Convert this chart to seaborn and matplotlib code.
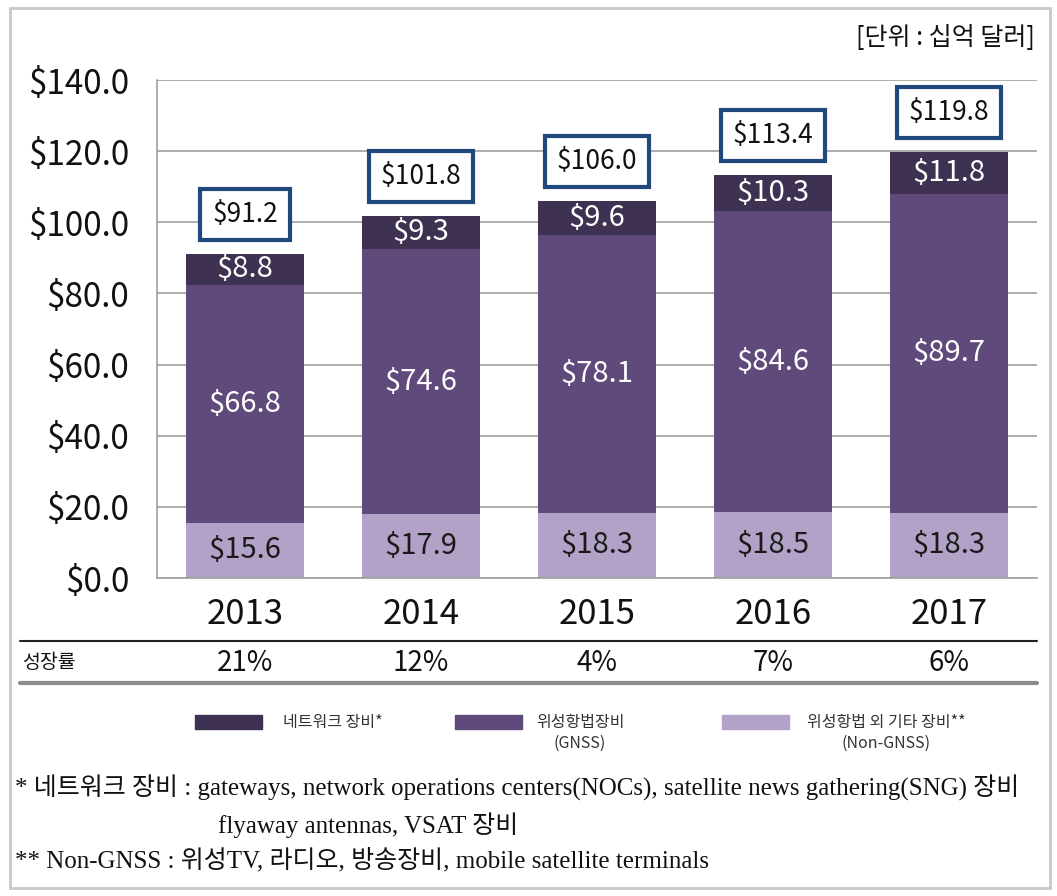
import matplotlib
matplotlib.use("Agg")
import matplotlib.pyplot as plt
import matplotlib.ticker as mticker
from matplotlib.patches import Rectangle
from matplotlib.lines import Line2D
import pandas as pd
import seaborn as sns

# data
years = ['2013', '2014', '2015', '2016', '2017']
network = [8.8, 9.3, 9.6, 10.3, 11.8]
gnss = [66.8, 74.6, 78.1, 84.6, 89.7]
non_gnss = [15.6, 17.9, 18.3, 18.5, 18.3]
totals = [91.2, 101.8, 106.0, 113.4, 119.8]
growth = ['21%', '12%', '4%', '7%', '6%']

series_names = ['네트워크 장비*', '위성항법장비\n(GNSS)', '위성항법 외 기타 장비**\n(Non-GNSS)']
colors = ['#3f3151', '#604a7b', '#b3a2c7']

sns.set_style('white')
plt.rcParams['font.family'] = ['Noto Sans CJK KR', 'DejaVu Sans']

df = pd.DataFrame({'year': years, 'network': network, 'gnss': gnss, 'non_gnss': non_gnss})
df['top'] = df['non_gnss'] + df['gnss'] + df['network']
df['mid'] = df['non_gnss'] + df['gnss']

fig = plt.figure(figsize=(10.57, 8.96), dpi=100)
ax = fig.add_axes([0.1485, 0.3549, 0.8325, 0.5558])

# stacked bars drawn as cumulative layers
for col, c in zip(['top', 'mid', 'non_gnss'], colors):
    sns.barplot(data=df, x='year', y=col, color=c, width=0.67, ax=ax, saturation=1,
                linewidth=0, edgecolor='none')

ax.set_ylim(0, 140)
ax.set_xlim(-0.5, 4.5)
ax.yaxis.set_major_locator(mticker.MultipleLocator(20))
ax.yaxis.set_major_formatter(mticker.FuncFormatter(lambda v, p: f'${v:.1f}'))
ax.grid(axis='y', color='#a0a0a0', linewidth=1.2, zorder=0)
ax.set_axisbelow(True)
for s in ['top', 'right']:
    ax.spines[s].set_visible(False)
for s in ['left', 'bottom']:
    ax.spines[s].set_color('#a0a0a0')
    ax.spines[s].set_linewidth(1.2)
ax.set_xlabel('')
ax.set_ylabel('')
ax.tick_params(axis='y', length=8, width=1.2, color='#a0a0a0', pad=12, labelsize=24, labelcolor='#111111')
ax.tick_params(axis='x', which='major', length=0, pad=14, labelsize=25, labelcolor='#111111')
ax.set_xticks([-0.5, 0.5, 1.5, 2.5, 3.5, 4.5], minor=True)
ax.tick_params(axis='x', which='minor', length=6, width=1.2, color='#a0a0a0')

# segment labels
for i in range(len(years)):
    ax.text(i, non_gnss[i] / 2, f'${non_gnss[i]:.1f}', ha='center', va='center',
            color='#1a1a1a', fontsize=21)
    ax.text(i, non_gnss[i] + gnss[i] / 2, f'${gnss[i]:.1f}', ha='center', va='center',
            color='white', fontsize=21)
    ax.text(i, non_gnss[i] + gnss[i] + network[i] / 2, f'${network[i]:.1f}', ha='center',
            va='center', color='white', fontsize=21)
    ax.text(i, totals[i] + 11, f'${totals[i]:.1f}', ha='center', va='center',
            color='#111111', fontsize=19,
            bbox=dict(boxstyle='square,pad=0.45', fc='white', ec='#1f497d', lw=3))

# growth rate row
trans = ax.get_xaxis_transform()
for i, g in enumerate(growth):
    ax.text(i, -0.171, g, transform=trans, ha='center', va='center', fontsize=20,
            color='#111111')
ax.text(22 / 1057, 1 - 662 / 896, '성장률', transform=fig.transFigure, ha='left', va='center',
        fontsize=14, color='#111111')
fig.add_artist(Line2D([20 / 1057, 1037 / 1057], [1 - 641 / 896] * 2, color='#222222', lw=1.5,
                      transform=fig.transFigure))
fig.add_artist(Line2D([20 / 1057, 1037 / 1057], [1 - 683 / 896] * 2, color='#8c8c8c', lw=3,
                      transform=fig.transFigure))

# legend drawn manually
leg_x = [195, 455, 722]
text_x = [283, 580, 886]
for k in range(3):
    fig.add_artist(Rectangle((leg_x[k] / 1057, 1 - 729 / 896), 67 / 1057, 14 / 896,
                             transform=fig.transFigure, color=colors[k]))
    first, *rest = series_names[k].split('\n')
    ha = 'left' if k == 0 else 'center'
    fig.text(text_x[k] / 1057, 1 - 722 / 896, first, ha=ha, va='center', fontsize=11.5,
             color='#333333')
    if rest:
        fig.text(text_x[k] / 1057, 1 - 743 / 896, rest[0], ha='center', va='center',
                 fontsize=11.5, color='#333333')

# unit and footnotes
fig.text(1035 / 1057, 1 - 38 / 896, '[단위 : 십억 달러]', ha='right', va='center', fontsize=18,
         color='#111111')
serif = ['Liberation Serif', 'Noto Sans CJK KR']
fig.text(15 / 1057, 1 - 788 / 896,
         '* 네트워크 장비 : gateways, network operations centers(NOCs), satellite news gathering(SNG) 장비',
         ha='left', va='center', fontsize=18, family=serif, color='#111111')
fig.text(218 / 1057, 1 - 825 / 896, 'flyaway antennas, VSAT 장비', ha='left', va='center',
         fontsize=18, family=serif, color='#111111')
fig.text(15 / 1057, 1 - 860 / 896, '** Non-GNSS : 위성TV, 라디오, 방송장비, mobile satellite terminals',
         ha='left', va='center', fontsize=18, family=serif, color='#111111')

# outer border
fig.add_artist(Rectangle((10 / 1057, 8 / 896), 1040 / 1057, 880 / 896, transform=fig.transFigure,
                         fill=False, ec='#c8c8c8', lw=2))

fig.savefig('out.png', dpi=100)
